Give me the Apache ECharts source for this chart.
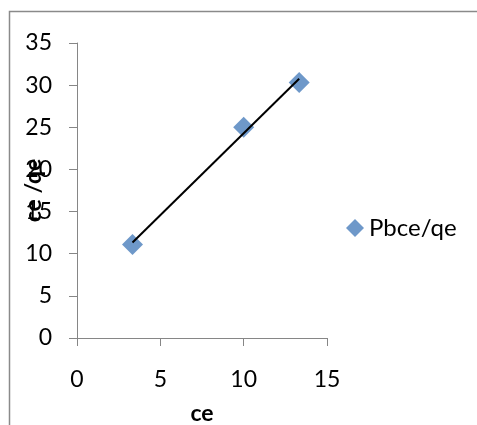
<!DOCTYPE html>
<html><head><meta charset="utf-8">
<script src="https://cdn.jsdelivr.net/npm/echarts@6/dist/echarts.min.js"></script>
<style>html,body{margin:0;padding:0;background:#fff}#c{width:477px;height:425px}</style>
</head><body><div id="c"></div>
<script>
const ceValues = [3.33, 10, 13.33];
const ceqeValues = [11.1, 25.0, 30.3];
const seriesName = 'Pbce/qe';
const xTitle = 'ce';
const yTitle = 'ce /qe';

// linear trendline (least squares), as in the original spreadsheet chart
const n = ceValues.length;
const mx = ceValues.reduce((a,b)=>a+b,0)/n;
const my = ceqeValues.reduce((a,b)=>a+b,0)/n;
let sxy=0, sxx=0;
for (let i=0;i<n;i++){ sxy+=(ceValues[i]-mx)*(ceqeValues[i]-my); sxx+=(ceValues[i]-mx)**2; }
const slope = sxy/sxx, icpt = my - slope*mx;
const xMin = Math.min(...ceValues), xMax = Math.max(...ceValues);
const trend = [[xMin, icpt+slope*xMin],[xMax, icpt+slope*xMax]];

const chart = echarts.init(document.getElementById('c'));
const font = 'Lato';
chart.setOption({
  animation:false,
  textStyle:{fontFamily:font},
  graphic:[{type:'rect', shape:{x:9.5,y:11.5,width:700,height:700}, style:{fill:'none',stroke:'#8a8a8a',lineWidth:1.5}, silent:true}],
  grid:{left:77, top:43, right:150, bottom:87, containLabel:false, outerBoundsMode:'none'},
  legend:{
    data:[{name:seriesName, icon:'diamond'}],
    left:341, top:211, itemWidth:18, itemHeight:18, itemGap:5,
    textStyle:{fontFamily:font, fontSize:24, color:'#000'}
  },
  xAxis:{
    type:'value', min:0, max:15, interval:5,
    name:xTitle, nameLocation:'middle', nameGap:64, nameMoveOverlap:false,
    nameTextStyle:{fontFamily:font, fontSize:23, fontWeight:'bold', color:'#000'},
    axisLine:{lineStyle:{color:'#868686', width:1}},
    axisTick:{show:true, length:8, lineStyle:{color:'#868686'}},
    axisLabel:{fontFamily:font, fontSize:23, color:'#000', margin:30},
    splitLine:{show:false}
  },
  yAxis:{
    type:'value', min:0, max:35, interval:5,
    name:yTitle, nameLocation:'middle', nameGap:32, nameRotate:90, nameMoveOverlap:false,
    nameTextStyle:{fontFamily:font, fontSize:23, fontWeight:'bold', color:'#000'},
    axisLine:{show:true, lineStyle:{color:'#868686', width:1}},
    axisTick:{show:true, length:8, lineStyle:{color:'#868686'}},
    axisLabel:{fontFamily:font, fontSize:23, color:'#000', margin:25},
    splitLine:{show:false}
  },
  series:[
    {name:seriesName, type:'scatter', symbol:'diamond', symbolSize:21,
     itemStyle:{color:'#4A7EBB'},
     data: ceValues.map((x,i)=>[x, ceqeValues[i]]), z:2},
    {name:'trend', type:'line', data:trend, symbol:'none', showSymbol:false,
     lineStyle:{color:'#000', width:2}, z:3, silent:true}
  ]
});
</script></body></html>
